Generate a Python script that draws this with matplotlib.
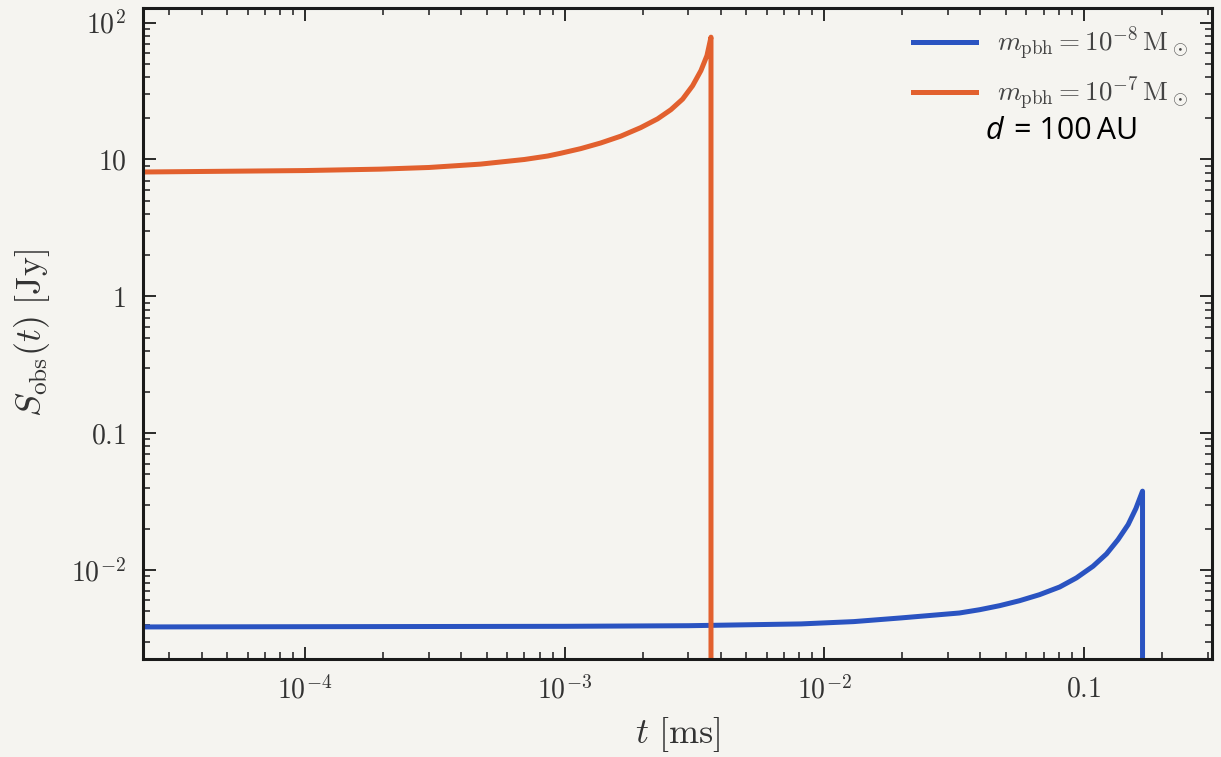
import matplotlib
matplotlib.use('Agg')
import matplotlib.pyplot as plt
from matplotlib.ticker import FuncFormatter, LogLocator
import numpy as np

# values (t in ms, S in Jy); last point = drop at cutoff
t_m7 = [2.37e-5, 1e-4, 1.95e-4, 3e-4, 4.74e-4, 7e-4, 8.6e-4, 9.65e-4, 1.153e-3,
        1.377e-3, 1.645e-3, 1.965e-3, 2.28e-3, 2.566e-3, 2.847e-3, 3.112e-3,
        3.35e-3, 3.534e-3, 3.663e-3, 3.663e-3]
s_m7 = [8.1, 8.3, 8.5, 8.74, 9.25, 10.0, 10.6, 11.1, 12.0,
        13.2, 14.8, 17.1, 19.8, 23.1, 27.6, 34.6,
        44.6, 57.4, 78.3, 1e-6]

t_m8 = [2.37e-5, 1e-3, 3e-3, 8.15e-3, 0.013, 0.0198, 0.0332, 0.0397, 0.0474,
        0.0566, 0.0676, 0.0808, 0.0937, 0.1086, 0.1224, 0.1356, 0.1483,
        0.1588, 0.1685, 0.1685]
s_m8 = [3.84e-3, 3.88e-3, 3.92e-3, 4.04e-3, 4.2e-3, 4.47e-3, 4.855e-3, 5.13e-3, 5.49e-3,
        5.97e-3, 6.61e-3, 7.52e-3, 8.76e-3, 1.066e-2, 1.312e-2, 1.669e-2, 2.148e-2,
        2.812e-2, 3.771e-2, 1e-6]

labels = [r'$m_{\rm pbh} = 10^{-8}\,\mathrm{M}_\odot$',
          r'$m_{\rm pbh} = 10^{-7}\,\mathrm{M}_\odot$']
blue = '#2a53c1'
orange = '#e2602e'
bg = '#f5f4f0'

plt.rcParams['mathtext.fontset'] = 'cm'
plt.rcParams['font.family'] = 'DejaVu Serif'

fig = plt.figure(figsize=(12.21, 7.57), dpi=100, facecolor=bg)
ax = fig.add_axes([0.117, 0.1295, 0.8756, 0.86])
ax.set_facecolor(bg)

ax.plot(t_m8, s_m8, color=blue, lw=3.6, label=labels[0], solid_joinstyle='round')
ax.plot(t_m7, s_m7, color=orange, lw=3.6, label=labels[1], solid_joinstyle='round')

ax.set_xscale('log')
ax.set_yscale('log')
ax.set_xlim(2.37e-5, 0.312)
ax.set_ylim(2.24e-3, 128)


def fmt(v, pos):
    e = int(round(np.log10(v)))
    names = {-1: '0.1', 0: '1', 1: '10'}
    if e in names:
        return '$' + names[e] + '$'
    return r'$10^{%d}$' % e


for a in (ax.xaxis, ax.yaxis):
    a.set_major_locator(LogLocator(base=10, numticks=20))
    a.set_minor_locator(LogLocator(base=10, subs=np.arange(2, 10), numticks=20))
    a.set_major_formatter(FuncFormatter(fmt))
    a.set_minor_formatter(plt.NullFormatter())

ax.tick_params(which='both', direction='in', top=True, right=True,
               labelsize=20, colors='#1a1a1a', labelcolor='#333333')
ax.tick_params(which='major', length=9, width=1.3, pad=12)
ax.tick_params(which='minor', length=5, width=1.1)
for sp in ax.spines.values():
    sp.set_linewidth(2.2)
    sp.set_color('#1a1a1a')

ax.set_xlabel(r'$t\ [\mathrm{ms}]$', fontsize=26, color='#333333', labelpad=8)
ax.set_ylabel(r'$S_{\rm obs}(t)\ [\mathrm{Jy}]$', fontsize=26, color='#333333', labelpad=14)

leg = ax.legend(loc='upper right', frameon=False, fontsize=19.5, handlelength=2.3,
                handletextpad=0.8, labelspacing=0.42, borderaxespad=0.2,
                bbox_to_anchor=(0.993, 1.0))
for t in leg.get_texts():
    t.set_color('#444444')

fig.text(986 / 1221, 1 - 131 / 757, 'd', fontsize=22, family='Open Sans', style='italic',
         ha='left', va='center', color='black')
fig.text(1014 / 1221, 1 - 131 / 757, '= 100\u2009AU', fontsize=22,
         family=['Open Sans', 'DejaVu Sans'], ha='left', va='center', color='black')

fig.savefig('out.png', dpi=100, facecolor=bg)
